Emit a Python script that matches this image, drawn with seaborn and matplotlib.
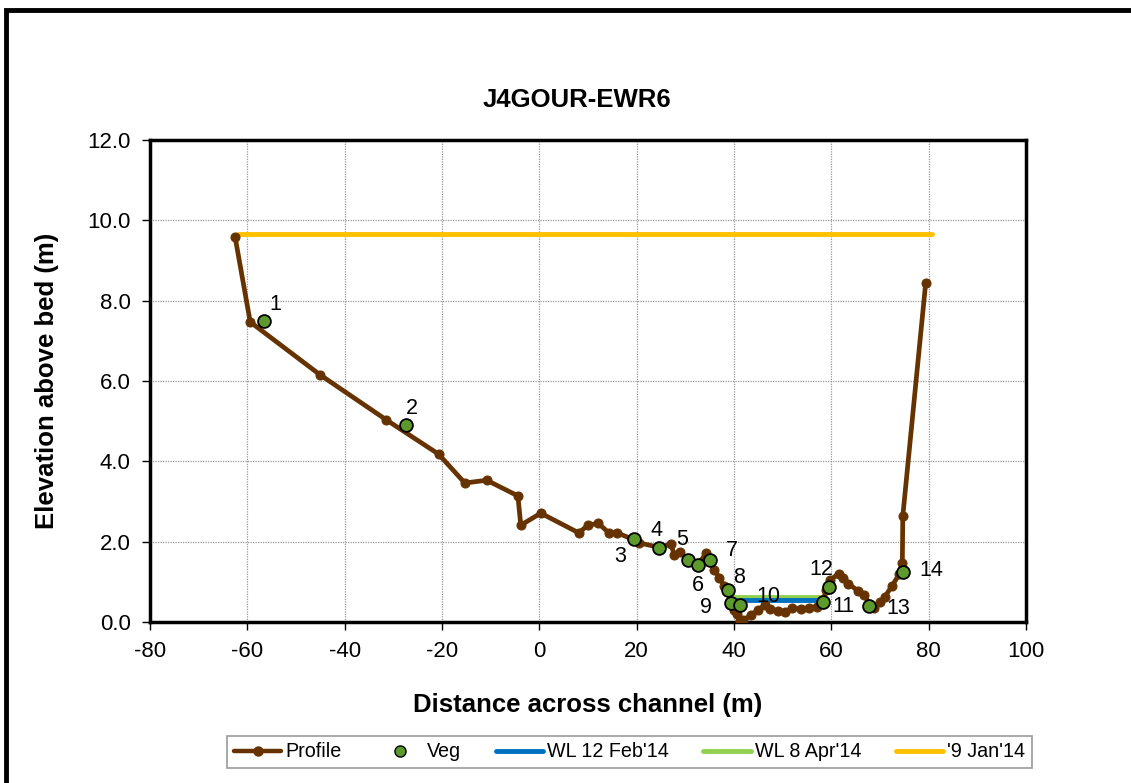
import numpy as np
import pandas as pd
import seaborn as sns
import matplotlib.pyplot as plt
from matplotlib.patches import Rectangle
from matplotlib.lines import Line2D

# Perfil transversal (distância, elevação)
perfil_x = [-62.5, -59.4, -45.0, -31.4, -20.7, -15.3, -10.8, -4.4, -3.8, 0.3,
            8.1, 10.0, 12.1, 14.3, 16.0, 19.8, 20.5, 24.6, 27.1, 27.7, 29.0,
            30.5, 32.5, 34.3, 35.1, 36.0, 37.0, 38.0, 38.8, 39.4, 40.0, 40.6,
            41.2, 41.9, 43.5, 45.0, 46.3, 47.5, 49.0, 50.4, 52.0, 53.8, 55.5,
            57.0, 58.2, 59.0, 59.8, 61.5, 62.5, 63.5, 65.5, 66.8, 67.8, 68.7,
            70.0, 71.0, 72.5, 74.0, 74.6, 74.7, 79.4]
perfil_y = [9.58, 7.47, 6.15, 5.03, 4.18, 3.46, 3.53, 3.14, 2.41, 2.71,
            2.22, 2.41, 2.46, 2.22, 2.22, 2.03, 1.97, 1.86, 1.94, 1.67, 1.74,
            1.54, 1.40, 1.72, 1.55, 1.30, 1.10, 0.90, 0.75, 0.50, 0.30, 0.20,
            0.02, 0.05, 0.17, 0.30, 0.42, 0.33, 0.28, 0.25, 0.35, 0.33, 0.35,
            0.38, 0.50, 0.80, 1.05, 1.20, 1.10, 0.95, 0.78, 0.68, 0.45, 0.36,
            0.50, 0.63, 0.90, 1.20, 1.47, 2.64, 8.44]

# Pontos de vegetação
veg_x = [-56.5, -27.3, 19.5, 24.6, 30.5, 32.6, 35.1, 38.8, 39.4, 41.3, 58.2, 59.6, 67.8, 74.8]
veg_y = [7.49, 4.90, 2.07, 1.84, 1.54, 1.42, 1.54, 0.80, 0.47, 0.42, 0.50, 0.87, 0.40, 1.25]
veg_rotulos = [str(i) for i in range(1, 15)]

# Níveis de água
wl_fev_x = [40.5, 58.0]
wl_fev_y = [0.55, 0.55]
wl_abr_x = [39.8, 58.6]
wl_abr_y = [0.62, 0.62]
wl_jan_x = [-62.0, 80.6]
wl_jan_y = [9.66, 9.66]

# deslocamento dos rótulos (pontos)
offsets = [(8, 12), (4, 12), (-10, -13), (-2, 13), (-4, 15), (0, -15), (16, 7),
           (8, 9), (-18, -3), (20, 6), (15, -3), (-6, 13), (21, -2), (20, 1)]

sns.set_style("white")
plt.rcParams['font.family'] = ['Liberation Sans', 'DejaVu Sans']
plt.rcParams['axes.unicode_minus'] = False
plt.rcParams['text.color'] = "black"
plt.rcParams['axes.labelcolor'] = "black"
plt.rcParams['xtick.color'] = "black"
plt.rcParams['ytick.color'] = "black"

fig = plt.figure(figsize=(11.31, 7.83), dpi=100)
ax = fig.add_axes([0.1326, 0.2056, 0.7745, 0.6156])

cor_perfil = "#663300"
cor_veg = "#5B9A2B"

sns.lineplot(x=wl_jan_x, y=wl_jan_y, ax=ax, color="#FFC000", linewidth=3.5, zorder=2)
sns.lineplot(x=wl_abr_x, y=wl_abr_y, ax=ax, color="#92D050", linewidth=3.5, zorder=2)
sns.lineplot(x=wl_fev_x, y=wl_fev_y, ax=ax, color="#0070C0", linewidth=3.5, zorder=2)

dados_perfil = pd.DataFrame({"x": perfil_x, "y": perfil_y})
sns.lineplot(data=dados_perfil, x="x", y="y", ax=ax, sort=False, estimator=None,
             color=cor_perfil, linewidth=3.4, marker="o", markersize=6.5,
             markeredgecolor=cor_perfil, zorder=3)

dados_veg = pd.DataFrame({"x": veg_x, "y": veg_y})
sns.scatterplot(data=dados_veg, x="x", y="y", ax=ax, color=cor_veg, s=85,
                edgecolor="black", linewidth=1.3, zorder=4)

for xv, yv, rot, off in zip(veg_x, veg_y, veg_rotulos, offsets):
    ax.annotate(rot, (xv, yv), xytext=off, textcoords="offset points",
                ha="center", va="center", fontsize=15.5, color="black")

ax.set_xlim(-80, 100)
ax.set_ylim(0, 12)
ax.set_xticks(np.arange(-80, 101, 20))
ax.set_yticks(np.arange(0, 12.1, 2))
ax.set_yticklabels([f"{v:.1f}" for v in np.arange(0, 12.1, 2)])
ax.grid(True, color="#999999", linestyle=(0, (1, 1)), linewidth=0.9)
ax.tick_params(axis="both", direction="out", length=6, width=1, labelsize=16,
               bottom=True, left=True, color="black", labelcolor="black")
ax.tick_params(axis="x", pad=8)
ax.tick_params(axis="y", pad=8)
for s in ax.spines.values():
    s.set_color("black")
    s.set_linewidth(2.5)

ax.set_xlabel("Distance across channel (m)", fontsize=18.5, fontweight="bold", labelpad=22, color="black")
ax.set_ylabel("Elevation above bed (m)", fontsize=18.5, fontweight="bold", labelpad=20, color="black")
fig.text(0.51, 0.872, "J4GOUR-EWR6", ha="center", va="center", fontsize=18.5,
         fontweight="bold", color="black")

handles = [
    Line2D([], [], color=cor_perfil, linewidth=3.2, marker="o", markersize=6.5),
    Line2D([], [], color=cor_veg, linestyle="none", marker="o", markersize=8, markeredgecolor="black"),
    Line2D([], [], color="#0070C0", linewidth=3.5),
    Line2D([], [], color="#92D050", linewidth=3.5),
    Line2D([], [], color="#FFC000", linewidth=3.5),
]
nomes = ["Profile", "Veg", "WL 12 Feb'14", "WL 8 Apr'14", "'9 Jan'14"]
leg = fig.legend(handles, nomes, loc="center", bbox_to_anchor=(0.5566, 0.0396), ncol=5,
                 fontsize=14.2, frameon=True, fancybox=False, edgecolor="#808080",
                 handlelength=2.4, handletextpad=0.2, columnspacing=1.75, borderpad=0.35,
                 labelcolor="black")
leg.get_frame().set_linewidth(1.2)

# moldura externa
fig.add_artist(Rectangle((6 / 1131, -0.1), 1.2, 1 - 10 / 783 + 0.1, transform=fig.transFigure,
                         fill=False, edgecolor="black", linewidth=3.5))

fig.savefig("out.png", dpi=100)
